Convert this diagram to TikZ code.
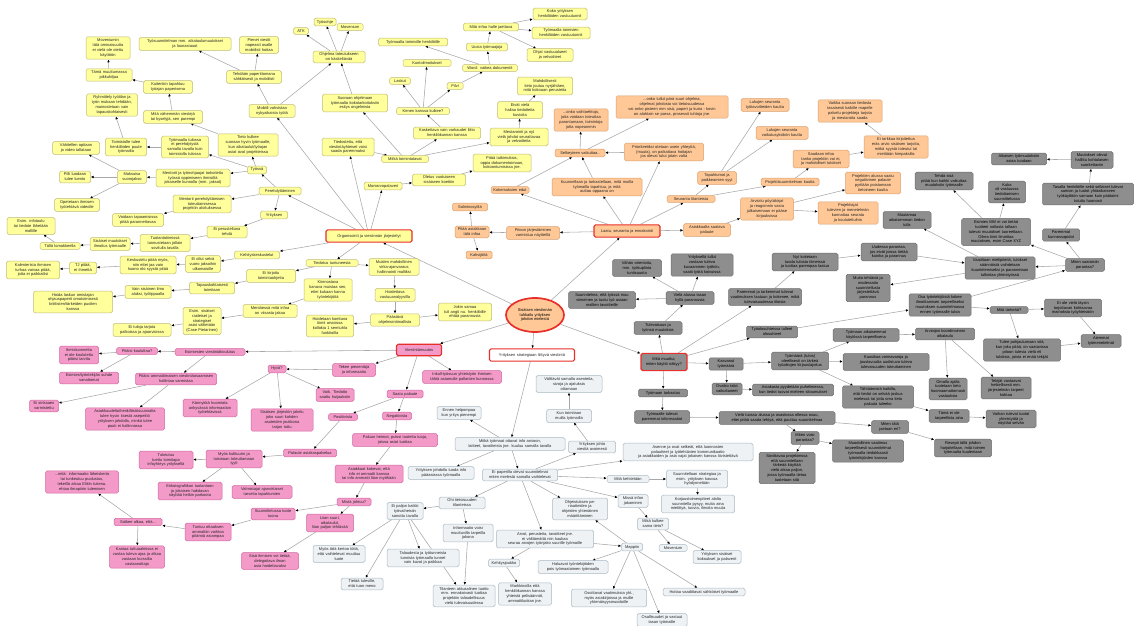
\documentclass[tikz,border=0pt]{standalone}
\usepackage{fontspec}
\setmainfont{Liberation Sans}
\usetikzlibrary{arrows.meta,shapes.geometric,backgrounds}

\definecolor{yfill}{HTML}{FFFF9C}
\definecolor{ydraw}{HTML}{BEBA78}
\definecolor{ofill}{HTML}{FFC896}
\definecolor{odraw}{HTML}{D8A070}
\definecolor{gfill}{HTML}{8E8E8E}
\definecolor{gdraw}{HTML}{6E6E6E}
\definecolor{pfill}{HTML}{F49AC9}
\definecolor{pdraw}{HTML}{D0679F}
\definecolor{bfill}{HTML}{EEF2F5}
\definecolor{bdraw}{HTML}{A9B8C2}
\definecolor{headred}{HTML}{E8302A}
\definecolor{edgegray}{HTML}{A8A8A8}

\tikzset{
  box/.style={draw, rounded corners=1.6pt, inner xsep=2pt, inner ysep=2pt,
    align=center, font=\fontsize{4}{4.9}\selectfont, line width=0.5pt, text=black!85},
  yb/.style={box, fill=yfill, draw=ydraw},
  ob/.style={box, fill=ofill, draw=odraw},
  gb/.style={box, fill=gfill, draw=gdraw, text=black},
  pb/.style={box, fill=pfill, draw=pdraw},
  bb/.style={box, fill=bfill, draw=bdraw},
  head/.style={draw=headred, line width=1.1pt, inner xsep=3pt, inner ysep=4.3pt},
  edge/.style={draw=edgegray, line width=0.55pt, -{Latex[length=2.8pt,width=2.6pt,color=black]}},
}

% \mapnode{name}{style}{x}{y}{text width}{text}
\newcommand\mapnode[6]{\node[#2,text width=#5pt] (#1) at (#3,#4) {#6};}

\begin{document}
\begin{tikzpicture}[x=1pt,y=-1pt]
\useasboundingbox (0,0) rectangle (1138,626);

% ---------- central concept ----------
\node[ellipse, draw=headred, line width=1.7pt, fill=ofill, minimum width=58pt, minimum height=34pt,
  inner sep=0pt, align=center, font=\fontsize{4}{4.9}\selectfont] (C) at (535,315)
  {Sisäisen viestinnän\\tuhkailu yrityksen\\johdon mielestä};

% ---------- yellow branch ----------
\mapnode{y40}{yb,head}{369}{236}{80}{Organisointi ja viestinnän järjestelyt}
\mapnode{y1}{yb}{108}{48}{40}{Moveniumin\\tätä ominaisuutta\\ei vielä ole otettu\\käyttöön}
\mapnode{y2}{yb}{109}{75}{42}{Tämä muuttumassa\\pikkuhiljaa}
\mapnode{y3}{yb}{168}{87}{45}{Kuitenkin tapahtuu\\työajan paperisena}
\mapnode{y4}{yb}{185}{44}{88}{Työsuunnitelman mm. aikataulumuutokset\\ja lounastauot}
\mapnode{y5}{yb}{259}{45}{35}{Pienet viestit\\nopeasti osalle\\mobiilisti hoitaa}
\mapnode{y6}{yb}{254}{77}{51}{Tehdään paperittomana\\sähköisesti ja mobiilisti}
\mapnode{y7}{yb}{272}{111}{42}{Mobiili vahvistaa\\nykyaikaista työtä}
\mapnode{y8}{yb}{173}{117}{55}{Mitä vähemmän viestejä\\tai kyselyjä, sen parempi}
\mapnode{y9}{yb}{112}{105}{47}{Ryhmittely työtilan ja\\työn mukaan tehdään,\\mainostetaan vain\\tapauskohtaisesti}
\mapnode{y10}{yb}{248}{145}{56}{Tieto kulkee\\suoraan hyvin työmaalle,\\kun aikataulut/työajan\\asiat ovat projekteissa}
\mapnode{y11}{yb}{185}{147}{43}{Työmaalla tulossa\\ei perehdytystä\\samalla tavalla kuin\\toimistolla tulossa}
\mapnode{y12}{yb}{126}{147}{37}{Toimistolle tulee\\henkilöiden puute\\työmailta}
\mapnode{y13}{yb}{76}{148}{43}{Vähitellen opitaan\\ja video tallataan}
\mapnode{y14}{yb}{257}{170}{15}{Työssä}
\mapnode{y15}{yb}{193}{178}{70}{Mentorit ja työnohjaajat tarkoitettu\\työssä oppimiseen ihmisiltä\\jokaiselle kunnolla (mm. jaksot)}
\mapnode{y16}{yb}{132}{177}{25}{Maksuisa\\vuorojakso}
\mapnode{y17}{yb}{75}{177}{27}{Pilli tuodaan\\tulee luento}
\mapnode{y18}{yb}{77}{205}{41}{Opetetaan ihmisen\\työtehtävä videolle}
\mapnode{y19}{yb}{280}{191}{38}{Perehdyttäminen}
\mapnode{y20}{yb}{202}{204}{54}{Mentorit perehdyttämisen\\toteuttamisessa\\projektin aloituksessa}
\mapnode{y21}{yb}{138}{220}{47}{Voidaan tapaamisissa\\pitää parannettavaa}
\mapnode{y22}{yb}{31}{226}{44}{Esim. infotaulu\\tai tiedote lähetään\\mallille}
\mapnode{y23}{yb}{60}{246}{36}{Tällä lomakkeella}
\mapnode{y24}{yb}{110}{244}{36}{Sisäiset muutokset\\ilmoitus työmaalle}
\mapnode{y25}{yb}{165}{243}{46}{Tuotantotiimissä\\tunnustetaan jollain\\sovitulla tavalla}
\mapnode{y26}{yb}{227}{232}{36}{Ei perusteltuna\\tehdä}
\mapnode{y27}{yb}{274}{215}{23}{Yrityksen}
\mapnode{y28}{yb}{257}{255}{41}{Kehityskeskustelut}
\mapnode{y29}{yb}{203}{264}{31}{Ei ollut selvä\\vuoro jaksoihin\\ulkomaisille}
\mapnode{y30}{yb}{148}{265}{52}{Keskustelu pitää myös,\\niin ettei jaa vain\\huono olo syystä pitää}
\mapnode{y31}{yb}{83}{268}{23}{TJ pitää,\\ei ihmettä}
\mapnode{y32}{yb}{33}{270}{49}{Kalenterista ihmisen\\turhaa vaivaa pitää,\\jotta ei paikkailisi}
\mapnode{y33}{yb}{271}{276}{45}{Ei kirjattu\\toimintaohjetta}
\mapnode{y34}{yb}{212}{288}{41}{Tapauskohtaisesti\\toimitaan}
\mapnode{y35}{yb}{148}{292}{42}{Vain sisäinen ilmo\\aluksi, työlippaalla}
\mapnode{y36}{yb}{73}{302}{75}{Hoida laskun omistajan\\ohjauspaperit omatoimisesti\\kriittisten/tärkeiden puolien\\kanssa}
\mapnode{y37}{yb}{270}{311}{50}{Mentäessä mitä infoa\\on viisasta jakaa}
\mapnode{y38}{yb}{202}{321}{34}{Esim. sisäiset\\raideiset ja\\strategiset\\asiat välitetään\\(Case Pietarinen)}
\mapnode{y39}{yb}{142}{330}{54}{Ei tuloja tarjota\\palkoissa ja ajoarvioissa}
\mapnode{y41}{yb}{332}{263}{48}{Tiedotus tuntuneesta}
\mapnode{y42}{yb}{394}{267}{46}{Muiden mahdollinen\\virka-ajanvaraus\\hallinnointi malliksi}
\mapnode{y43}{yb}{328}{290}{44}{Kiinnostava\\kanava muistaa sen,\\ettei kukaan kanna\\työntekijöitä}
\mapnode{y44}{yb}{395}{295}{36}{Hoidettava\\vastuuanalyysilla}
\mapnode{y45}{yb}{395}{320}{45}{Päästävä\\ohjelmointimallista}
\mapnode{y46}{yb}{330}{326}{43}{Hoidetaan koettuna\\tiimit arvioissa\\kollokia 1 semtuhla\\funktioilla}
\mapnode{y47}{yb}{465}{312}{49}{Jokin samaa\\tuli angti nu. henkilöille\\ehtää parannusta}
\mapnode{y48}{yb}{325}{22}{18}{Työsohje}
\mapnode{y49}{yb}{301}{31}{11}{ATK}
\mapnode{y50}{yb}{350}{27}{22}{Movenium}
\mapnode{y51}{yb}{339}{57}{48}{Ohjelma toteutukseen\\on käsiteltävää}
\mapnode{y52}{yb}{355}{103}{61}{Suoraan ohjelmaan\\työmaalta kokotarkoituksiin\\esitys ongelmista}
\mapnode{y53}{yb}{348}{147}{48}{Tiedostettu, että\\viestintäyhteiset voisi\\saada paremmaksi}
\mapnode{y54}{yb}{405}{159}{43}{Mitkä toimintatavat}
\mapnode{y55}{yb}{383}{186}{34}{Moniarvopalaveri}
\mapnode{y56}{yb}{439}{180}{49}{Oletus vuotuiseen\\sisäiseen koettiin}
\mapnode{y57}{yb}{502}{163}{54}{Pitää tutkimuksia,\\oppia dokumentoimaan,\\kokoontumisissa jne.}
\mapnode{y58}{yb}{447}{133}{63}{Koskettava vain varkaudet liitto\\henkilökunnan kanssa}
\mapnode{y59}{yb}{519}{137}{54}{Mestarointi ja nyt\\vielä johdot seurattavaa\\ja velvoitteita}
\mapnode{y60}{yb}{520}{110}{41}{Eivät vielä\\hallaa tiedotteita\\kuvioita}
\mapnode{y61}{yb}{545}{86}{51}{Mahdollisesti\\tieto joutuu nyrjähtäen,\\mitä kokoaan perusteita}
\mapnode{y62}{yb}{423}{111}{49}{Kenen kanssa kulkee?}
\mapnode{y63}{yb}{400}{81}{17}{Laskut}
\mapnode{y64}{yb}{427}{63}{44}{Kuntoilmoitukset}
\mapnode{y65}{yb}{455}{86}{12}{Pilvi}
\mapnode{y66}{yb}{490}{68}{51}{Word: vaikea dokumentit}
\mapnode{y67}{yb}{413}{42}{65}{Työmaalla toimiville henkilöille}
\mapnode{y68}{yb}{487}{47}{37}{Uusia työmaajoja}
\mapnode{y69}{yb}{491}{27}{51}{Mitä infoa halle jaettava}
\mapnode{y70}{yb}{560}{14}{50}{Koko yrityksen\\henkilöiden vastuutunnit}
\mapnode{y71}{yb}{561}{33}{54}{Työmaalla toimivien\\henkilöiden vastuutunnit}
\mapnode{y72}{yb}{550}{55}{42}{Ohjat vastuualueet\\ja velvoitteet}

% ---------- orange branch ----------
\mapnode{o1}{ob,head}{627}{231}{60}{Laatu, seuranta ja ennakointi}
\mapnode{o2}{ob}{533}{233}{49}{Pitoon järjestäminen\\varmistua näytteillä}
\mapnode{o3}{ob}{472}{232}{30}{Pitää asiakkaan\\tätä infoa}
\mapnode{o4}{ob}{470}{207}{31}{Salminosyiltä}
\mapnode{o5}{ob}{479}{255}{22}{Kahvijöitä}
\mapnode{o6}{ob}{510}{190}{34}{Kokemuksien edut}
\mapnode{o7}{ob}{597}{187}{86}{Kuunnellaan ja tarkastellaan, mitä muilla\\työmailla tapahtuu, ja mitä\\auttaa oppaana on}
\mapnode{o8}{ob}{580}{153}{46}{Selkeyteen vaikuttaa..}
\mapnode{o9}{ob}{581}{120}{50}{...onko vaihtoehtoja,\\joita voidaan toteuttaa\\parantamaan, toimintoja\\jotta nopeammin}
\mapnode{o10}{ob}{672}{107}{108}{...onko tullut pärä suuri ohjelma,\\ohjelmat johdosta voi tietoisuudessa\\vai onko pisteen mm sisä, paperi ja kuria - kovin\\on alahtain se parsa, prosessit tuhtoja jne.}
\mapnode{o11}{ob}{664}{152}{75}{Prioriteetiksi otetaan usein yhteyttä,\\(muuta), on paikattava hoitajan\\jos olevat tulut jotain valta}
\mapnode{o12}{ob}{765}{105}{44}{Lukujen seuranta\\työtavoitteiden kautta}
\mapnode{o13}{ob}{782}{133}{48}{Lukujen seuranta\\vaikutusyksikön kautta}
\mapnode{o14}{ob}{717}{178}{35}{Tapahtumat ja\\poikkeamien syyt}
\mapnode{o15}{ob}{691}{199}{44}{Seuranta tilanteista}
\mapnode{o16}{ob}{790}{182}{54}{Projektisuunnitelman kautta}
\mapnode{o17}{ob}{821}{159}{52}{Saadaan infoa\\tanko projektiin vai ei,\\ja mahdolliset tulokset}
\mapnode{o18}{ob}{850}{111}{60}{Vaikka suoraan tiedosta\\tasaisesti kaikille mapelle\\palvelu projekteja tarjota\\ja mestaroita saada}
\mapnode{o19}{ob}{896}{147}{60}{Ei tarkkaa kirjoitettua\\eräs arvio sisäisen tarjotta,\\mitkä syystä toteutui tai\\mietitään himpaksilla}
\mapnode{o20}{ob}{873}{183}{51}{Projektien alussa saatu\\negatiivinen palaute\\pyritään poistamaan\\tietoineen kautta}
\mapnode{o21}{ob}{767}{209}{49}{Arvioitu pöytäkirjat\\ja reagoinnin vasta\\julkaisemaan ei pääse\\kirjauksissa}
\mapnode{o22}{ob}{848}{213}{56}{Projektiajat\\tulevien ja menetelmän\\kannattaa seurata\\ja koulutettuihin}
\mapnode{o23}{ob}{707}{230}{43}{Asiakkaalta saatava\\palaute}

% ---------- grey branch ----------
\mapnode{g1}{gb,head}{664}{362}{40}{Mitä muuttui,\\miten käyttö näkyy?}
\mapnode{g2}{gb}{726}{364}{30}{Kasvanut\\työmäärä}
\mapnode{g3}{gb}{800}{361}{53}{Työmäärä (tulos)\\oleellisesti on tärkeä\\työaikojen kirjaus/ajoitus}
\mapnode{g4}{gb}{945}{334}{55}{Arvioijan koordinoinnin\\aikataulu}
\mapnode{g5}{gb}{866}{335}{62}{Työmaan aikaisemmat\\käytössä tarpeellisena}
\mapnode{g6}{gb}{886}{362}{82}{Kuusikaa voimavaroja ja\\joustavuutta uudistuva tuleva\\tulevaisuuden toteuttaminen}
\mapnode{g7}{gb}{727}{389}{26}{Ovatko talot\\vaikuttaneet}
\mapnode{g8}{gb}{793}{390}{77}{Asiakasta pyydetään puhelimessa,\\kun tiedot tuovat mieleen sitoumukset}
\mapnode{g9}{gb}{663}{393}{45}{Työmaan tarkastus}
\mapnode{g10}{gb}{662}{417}{51}{Työmaalle tulevat\\paremmat informaatiot}
\mapnode{g11}{gb}{777}{418}{112}{Vielä tuossa alussa ja osastossa ollessa osuu,\\ettei pitää saada tehtyä, että puuttuu suunnitelmaa}
\mapnode{g12}{gb}{805}{438}{24}{Miten voisi\\parantaa?}
\mapnode{g13}{gb}{787}{468}{52}{Sovittavaa projekteissa\\että suunnitellaan\\tärkeää käyttää\\vielä aikaa paljon,\\jossa työmaalla tietoa\\tuotetaan sitä}
\mapnode{g14}{gb}{868}{451}{67}{Muodollinen vaatimus\\tarpeellisesti suunnitelmat\\työmaalla tiedokkaasti\\työntekijöiden kanssa}
\mapnode{g15}{gb}{890}{427}{33}{Miten tätä\\jaetaan eri?}
\mapnode{g16}{gb}{963}{448}{53}{Resepti tällä johdon\\harjoitellaan, mitä toimen\\työmaalta kuulemaan}
\mapnode{g17}{gb}{949}{416}{36}{Tämä ei ole\\tarpeellista aina}
\mapnode{g18}{gb}{1011}{419}{46}{Voihan tulevat tuotot\\yhteistyötä ja\\näyttää selvän}
\mapnode{g19}{gb}{878}{397}{67}{Tähtäämistä kaikilla,\\että tiedot on selvää joskus\\mielessä tai jotta oma tieto\\paluuta tuleeko}
\mapnode{g20}{gb}{948}{389}{34}{Omalla ajalla\\tuotetaan tieto\\huomaamattomasti\\vastauksia}
\mapnode{g21}{gb}{1006}{388}{46}{Tekijät vastaavat\\hetkellisesti mm.\\järjestelmän tarpeet\\kohtaa}
\mapnode{g22}{gb}{1022}{350}{73}{Tulee pohjautumaan sitä,\\kun joku pitää, on saatavissa\\pitoon tulevia vielä eli\\tuloksia, joista ei enää tekijät}
\mapnode{g23}{gb}{1101}{341}{36}{Aiemmat\\työmenetelmät}
\mapnode{g24}{gb}{1073}{308}{53}{Ei ole vielä täysin\\tarjottavan kohtaavaa\\mainoksia työyhteisöön}
\mapnode{g25}{gb}{1009}{310}{34}{Mitä tärkeää?}
\mapnode{g26}{gb}{940}{305}{58}{Osa työntekijöistä kokee\\ilmoittamisen tarpeelliseksi\\muutoksen suunnitelmassa\\ennen työmaalle tuloa}
\mapnode{g27}{gb}{1085}{265}{35}{Miten saataisiin\\parantaa?}
\mapnode{g28}{gb}{1000}{268}{66}{Vaaditaan mielipiteitä, tulokset\\säännöistä vaihdetaan\\kuuntelemiseksi ja parannetaan\\tulkintaa yhteistyössä}
\mapnode{g29}{gb}{996}{232}{65}{Esimies MM ei voi tietää\\tuotteet nollasta tallaan\\tulevat muutokset tuoreeltaan.\\Oikea tiimi ilmoittaa\\muutoksen, esim Case XYZ}
\mapnode{g30}{gb}{1061}{235}{33}{Paremmat\\kunnossapidot}
\mapnode{g31}{gb}{907}{220}{44}{Muutamaa\\aikaisemman tiedon\\tulla}
\mapnode{g32}{gb}{889}{252}{52}{Uudessa parantaa,\\jos eivät joissa tietää\\kuinka ja parannus}
\mapnode{g33}{gb}{868}{288}{40}{Muita tehtäviä ja\\moderaatio\\suunnitellusta\\järjestettävä\\parannus}
\mapnode{g34}{gb}{1088}{194}{87}{Tasalla henkilöille sekä sellaiset tulevat\\samoin ja tuotot yhtäaikaiseen\\työkäyttöön samaan kuin päätoimi\\totuttu huonosti}
\mapnode{g35}{gb}{1092}{160}{38}{Muutokset olevat\\hallittu kohtalaisen\\suoritettaviin}
\mapnode{g36}{gb}{1019}{159}{51}{Aikaisen työmuutoksiin\\asiaa tuodaan}
\mapnode{g37}{gb}{1007}{192}{33}{Kuka\\oli vastuussa\\tiedottamisen\\suunnittelussa}
\mapnode{g38}{gb}{944}{181}{54}{Tehdä sisä\\pitää kun kaikki vaikuttaa\\muutoksiin työmaalle}
\mapnode{g39}{gb}{805}{262}{62}{Nyt koitetaan\\tuoda tulosta tiimeissä\\ja tuottaa parempaa laatua}
\mapnode{g40}{gb}{637}{268}{45}{Vähän orientoitu,\\mm. työkuplinta\\tuntisuunta}
\mapnode{g41}{gb}{702}{265}{58}{Yrityksellä tullut\\vastaan tuleva\\kuvaaminen työhön,\\vaatii työtä koivuissa}
\mapnode{g42}{gb}{690}{298}{44}{Vielä alussa tasan\\kyllä parannusta}
\mapnode{g43}{gb}{602}{300}{63}{Suunnitelma, että työssä muu\\viimeinen ja tuotu työ asiaan\\mallien tavoitteille}
\mapnode{g44}{gb}{765}{297}{69}{Paremmat ja tarkemmat tulevat\\vaatimuksen laatuun ja kokenee, mikä\\tulevaisuudessa tiloista}
\mapnode{g45}{gb}{658}{328}{44}{Tulevaisuus ja\\työnsä muutoksia}
\mapnode{g46}{gb}{772}{332}{47}{Työolosuhteissa tulleet\\olosuhteet}

% ---------- pink branch ----------
\mapnode{p1}{pb,head}{419}{350}{39}{Viestintämuutos}
\mapnode{p2}{pb}{210}{352}{66}{Esimiesten viestintäkoulutus}
\mapnode{p3}{pb}{137}{351}{37}{Pitäisi kouluttaa?}
\mapnode{p4}{pb}{79}{355}{35}{Ihmisluonnetta\\ei ole koulutettu\\pitäisi tarvita}
\mapnode{p5}{pb}{89}{378}{55}{Esimies/työntekijän suhde\\sanattomat}
\mapnode{p6}{pb}{176}{379}{77}{Pitäisi ammattimaisen viestintäosaamisen\\hallintaa varmistaa}
\mapnode{p7}{pb}{44}{406}{25}{Ei sinkaaen\\varmistettu}
\mapnode{p8}{pb}{125}{419}{75}{Asiakkuudelta/henkilöstösuunnalta\\tulee hyvin itsestä asepeittö\\yrityksen johdolla, minkä tulee\\pauti ei hallinnossa}
\mapnode{p9}{pb}{210}{408}{50}{Kännykkä huomiota\\ankyvässä informaation\\työtehtävissä}
\mapnode{p10}{pb}{282}{420}{58}{Sisäisen järjestön jakelu\\joko suuri kahden\\asuteiden joukkona\\tarjan tuttu}
\mapnode{p11}{pb}{277}{369}{14}{Hyvä?}
\mapnode{p12}{pb}{354}{370}{39}{Tekee pienentäjä\\ja informaatio}
\mapnode{p13}{pb}{335}{395}{34}{Vaik. Tiedotto\\saattu huijauksiin}
\mapnode{p14}{pb}{462}{377}{75}{Inkull-työsuun yhteistyön ihmisen\\tähtä asiamulle pallanten kunnossa}
\mapnode{p15}{pb}{405}{394}{32}{Saatu palaute}
\mapnode{p16}{pb}{343}{417}{25}{Positiivista}
\mapnode{p17}{pb}{397}{416}{25}{Negatiivista}
\mapnode{p18}{pb}{395}{440}{81}{Paluun heimot, pulssi tuotetta tuoja,\\joissa asiat tuottaa}
\mapnode{p19}{pb}{369}{474}{64}{Asiakkaat kokevat, että\\info ei ammatti kanssa\\tai info ammatti liian myöhään}
\mapnode{p20}{pb}{354}{502}{30}{Mistä johtuu?}
\mapnode{p21}{pb}{330}{523}{43}{Liian suuri,\\aikataulut,\\liian paljon tehtävää}
\mapnode{p22}{pb}{310}{453}{49}{Palaute asiakaspalvelua}
\mapnode{p23}{pb}{273}{514}{40}{Suunnittelussa tuote\\tuona}
\mapnode{p24}{pb}{234}{459}{52}{Myös kulttuurin ja\\toisinaan toteuttamaan\\tyyli}
\mapnode{p25}{pb}{166}{460}{50}{Tukeutuu\\tuettu toimitapa\\infoyhteys yrityksellä}
\mapnode{p26}{pb}{190}{491}{60}{Erikoisgrafiikan tuotantoon\\ja jokaisen hakdavan\\näyttää hetkin parkoota}
\mapnode{p27}{pb}{262}{492}{56}{Valmistajat ajanvirtaiset\\tarvetta tapahtumien}
\mapnode{p28}{pb}{82}{482}{69}{...mitä: informaatio läheiskerto\\tai tunkeutuu puolustus,\\tekeillä aikaa Eliitin tukena,\\ehtaa ilmapiirin tuleminen}
\mapnode{p29}{pb}{138}{522}{44}{Sotkee alkaa, että...}
\mapnode{p30}{pb}{208}{532}{42}{Tuntuu ottaaksen\\ammattiin vaihtoa\\pitämiä asiampaa}
\mapnode{p31}{pb}{137}{557}{51}{Kantaa tuttuaalmissa ei\\vastaa tuleva ajoa ja alkaa\\vastaan kurssilta\\vastaanottaja}
\mapnode{p32}{pb}{270}{561}{53}{Sisä ihmisen voi tietää,\\delegoitava ilman\\asia hoidettavaksi}

% ---------- light branch ----------
\node[bb,head,fill=white,text width=79pt] (b1) at (532,355) {Yrityksen strategiaan liittyvä viestintä};
\mapnode{b2}{bb}{569}{384}{62}{Välttävät samalla asenteita,\\sivoja ja ajatuksia\\ottamaan}
\mapnode{b3}{bb}{569}{416}{41}{Kun toimitaan\\muilla työmailla}
\mapnode{b4}{bb}{459}{413}{40}{Ennen helpompaa\\kun yritys pienempi}
\mapnode{b5}{bb}{510}{444}{106}{Mitkä työmaat ottavat info arvioon,\\laitteet, tavoitteista jne. kuuluu samalla tavalla}
\mapnode{b6}{bb}{441}{473}{62}{Yrityksen johdolla tuoda info\\pääasiassa työmaalla}
\mapnode{b7}{bb}{592}{447}{43}{Yrityksen johto\\viestiä avoimesti}
\mapnode{b8}{bb}{520}{475}{71}{Ei paperilla olevat suunnitelmat\\miten mielestä samalla vaihtelevat}
\mapnode{b9}{bb}{688}{452}{126}{Asenne ja ovat selkeät, että luonnosten\\palautteet ja työtehtävien kommunikaatio\\ja asiakkaiden ja asia vajat jokaisen kanssa tiivistettävä}
\mapnode{b10}{bb}{628}{479}{38}{Mitä kehitetään}
\mapnode{b11}{bb}{697}{479}{57}{Suunnitellaan strategiaa ja\\esim. yrityksen kasvua\\hyödynnetään}
\mapnode{b12}{bb}{698}{504}{69}{Korjaustoimenpiteet alalta\\suunnitella pysyy, mutta aina\\mietittyä, tuovia, ilmoita muuta}
\mapnode{b13}{bb}{633}{501}{26}{Missä infon\\jakaminen}
\mapnode{b14}{bb}{653}{524}{27}{Mikä kulkee\\sama tieto?}
\mapnode{b15}{bb}{673}{548}{24}{Movenium}
\mapnode{b16}{bb}{717}{557}{44}{Yrityksen sisäiset\\kokoukset ja palaverit}
\mapnode{b17}{bb}{580}{509}{51}{Ohjeistuksen periaatteiden ja\\ohjeiden yhtenäinen\\määrittäminen}
\mapnode{b18}{bb}{632}{547}{17}{Mappiin}
\mapnode{b19}{bb}{545}{539}{93}{Arvot, perusteita, tavoitteet jne.\\ei välttämättä niin kaukaa\\seuraa arvojen työnjako suurille työmaille}
\mapnode{b20}{bb}{573}{567}{66}{Haluavat työntekijöiden\\pois työmaatoimen työmaalla}
\mapnode{b21}{bb}{504}{563}{27}{Kehitysjoukko}
\mapnode{b22}{bb}{525}{594}{49}{Markkinoilla että\\henkilökunnan kanssa\\yhteistä pelisäännöt,\\ammattiluokan jne.}
\mapnode{b23}{bb}{609}{598}{71}{Osoittavat vaatimuksia yht.,\\myös asiakirjoissa ja muille\\yhtenäisyysmuodoille}
\mapnode{b24}{bb}{662}{620}{46}{Osallisuudet ja vastuut\\tasan työmaille}
\mapnode{b25}{bb}{704}{592}{78}{Hoitaa vaadittavat sähköiset työmaalle}
\mapnode{b26}{bb}{462}{503}{42}{Ohi tietoisuuden\\tilanteissa}
\mapnode{b27}{bb}{468}{533}{46}{Informaatio voisi\\muuttuvilla tarpeilla\\jakona}
\mapnode{b28}{bb}{464}{596}{58}{Tilanteen aktuaalinen tuotto\\mm. ennakoivasti tuottaa\\projektiin taloudellisuus\\vielä tulevaisuudessa}
\mapnode{b29}{bb}{405}{511}{32}{Ei paljon kaikki\\työvaiheisiin\\sanottu tavalla}
\mapnode{b30}{bb}{339}{554}{48}{Myös tätä kertoo töitä,\\että vaihtelevat muuttuu\\tuote}
\mapnode{b31}{bb}{423}{558}{68}{Taloudesta ja työtunneista\\tunnista työmaalla tunnet\\vain kuvat ja paikkaa}
\mapnode{b32}{bb}{362}{584}{38}{Tietää tuleville,\\että tuon meno}

% ---------- connectors ----------
\begin{pgfonlayer}{background}
\fill[white] (0,0) rectangle (1138,626);
\foreach \a/\b in {C/y40, C/o1, C/g1, C/p1, C/b1,
  y40/y7, y7/y51, y52/y51, y51/y49, y51/y48, y51/y50, y40/y53, y40/y55, y53/y54,
  y54/y52, y54/y58, y54/y59, y58/y62, y62/y63, y62/y64, y62/y65, y65/y66, y66/y67,
  y66/y68, y68/y69, y69/y70, y69/y71, y69/y72, y59/y60, y60/y61, y55/y56, y56/y57,
  y7/y6, y6/y4, y6/y5, y40/y19, y19/y14, y14/y10, y14/y15, y14/y11, y10/y8, y8/y3,
  y3/y2, y2/y1, y11/y12, y12/y9, y15/y16, y16/y13, y16/y17, y16/y18, y19/y20,
  y20/y21, y19/y27, y27/y26, y26/y25, y25/y24, y24/y23, y23/y22, y40/y28, y28/y29,
  y29/y30, y30/y31, y31/y32, y40/y41, y41/y42, y41/y43, y41/y33, y33/y34, y34/y35,
  y35/y36, y43/y37, y37/y38, y38/y39, y42/y44, y44/y45, y45/y46, y45/y47,
  o1/o2, o2/o3, o3/o4, o3/o5, o1/o6, o6/o8, o8/o9, o8/o10, o1/o11, o11/o8, o1/o7,
  o7/o8, o1/o15, o15/o14, o14/o12, o14/o13, o15/o16, o16/o17, o17/o19, o19/o18,
  o1/o23, o23/o21, o21/o22, o21/o20,
  g1/g45, g45/g42, g42/g40, g42/g41, g42/g43, g1/g44, g44/g39, g39/g32, g32/g28,
  g1/g46, g46/g26, g26/g25, g26/g27, g25/g24, g25/g22, g22/g23, g24/g23, g27/g28,
  g27/g29, g27/g30, g30/g34, g34/g35, g35/g36, g29/g37, g29/g38, g28/g33, g28/g31,
  g1/g2, g2/g3, g3/g5, g5/g4, g4/g20, g4/g21, g3/g6, g3/g19, g19/g17, g17/g18,
  g2/g7, g7/g8, g1/g9, g9/g10, g10/g11, g11/g12, g11/g15, g12/g13, g12/g14, g15/g16,
  p1/p2, p2/p3, p3/p4, p3/p5, p2/p6, p6/p7, p6/p8, p1/p12, p12/p11, p11/p9, p11/p10,
  p11/p13, p1/p14, p1/p15, p15/p16, p15/p17, p16/p22, p17/p18, p18/p19, p19/p20,
  p20/p23, p20/p21, p21/p32, p22/p24, p24/p25, p24/p26, p24/p27, p23/p30, p30/p29,
  p29/p28, p29/p31,
  b1/b5, b5/b4, b5/b6, b5/b8, b8/b7, b7/b3, b3/b2, b8/b9, b8/b10, b10/b11, b11/b12,
  b8/b13, b13/b14, b14/b15, b14/b16, b8/b26, b26/b27, b27/b28, b26/b29, b29/b30,
  b29/b31, b29/b32, b29/b28, b8/b17, b18/b17, b8/b19, b19/b18, b19/b21, b21/b22,
  b18/b20, b18/b23, b18/b24, b18/b25}
  \draw[edge] (\a) -- (\b);
\end{pgfonlayer}
\end{tikzpicture}
\end{document}
